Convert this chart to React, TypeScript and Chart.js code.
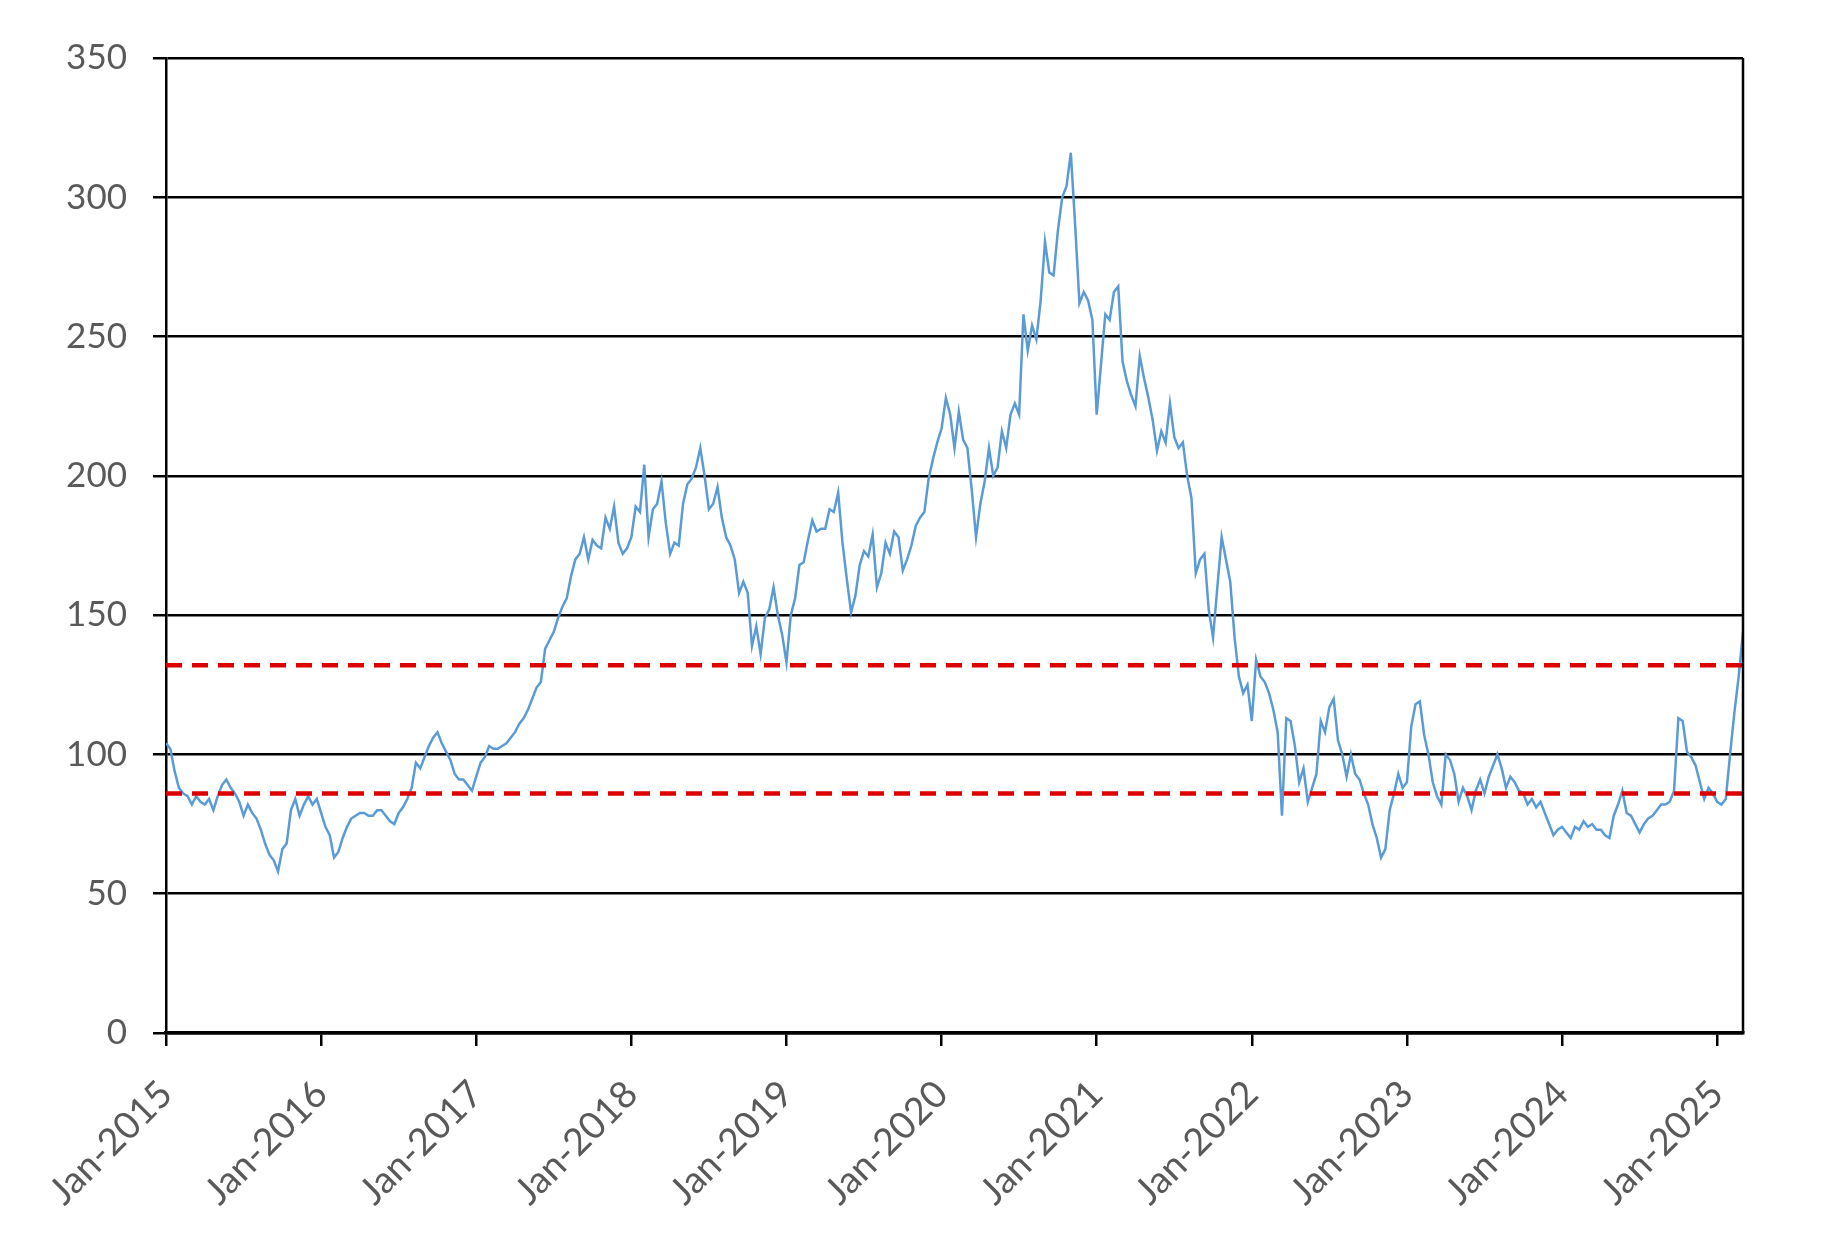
import { useEffect, useRef } from 'react';
import { Chart, registerables } from 'chart.js';

Chart.register(...registerables);

// price, 36 readings per year (about every 10 days)
const years = [2015, 2016, 2017, 2018, 2019, 2020, 2021, 2022, 2023, 2024, 2025];
const v2015 = [104, 102, 94, 88, 86, 85, 82, 85, 83, 82, 84, 80, 85, 89, 91, 88, 86, 83, 78, 82, 79, 77, 73, 68, 64, 62, 58, 66, 68, 80, 84, 78, 82, 85, 82, 84];
const v2016 = [79, 74, 71, 63, 65, 70, 74, 77, 78, 79, 79, 78, 78, 80, 80, 78, 76, 75, 79, 81, 84, 88, 97, 95, 99, 103, 106, 108, 104, 101, 98, 93, 91, 91, 89, 87];
const v2017 = [92, 97, 99, 103, 102, 102, 103, 104, 106, 108, 111, 113, 116, 120, 124, 126, 138, 141, 144, 149, 153, 156, 164, 170, 172, 178, 170, 177, 175, 174, 185, 181, 189, 176, 172, 174];
const v2018 = [178, 189, 187, 204, 178, 188, 190, 198, 183, 172, 176, 175, 190, 197, 199, 203, 210, 200, 188, 190, 196, 185, 178, 175, 170, 158, 162, 158, 139, 146, 136, 149, 152, 160, 150, 143];
const v2019 = [133, 150, 156, 168, 169, 177, 184, 180, 181, 181, 188, 187, 194, 176, 163, 151, 157, 168, 173, 171, 179, 160, 165, 176, 172, 180, 178, 166, 170, 175, 182, 185, 187, 199, 206, 212];
const v2020 = [217, 228, 222, 210, 223, 213, 210, 195, 178, 190, 198, 210, 200, 203, 216, 210, 222, 226, 222, 258, 245, 254, 249, 263, 284, 273, 272, 288, 300, 304, 316, 290, 262, 266, 263, 256];
const v2021 = [222, 240, 258, 256, 266, 268, 241, 234, 229, 225, 243, 235, 228, 220, 209, 216, 212, 226, 214, 210, 212, 200, 192, 165, 170, 172, 152, 142, 160, 178, 170, 162, 142, 128, 122, 125];
const v2022 = [112, 134, 128, 126, 122, 116, 108, 78, 113, 112, 103, 90, 95, 83, 88, 93, 112, 108, 117, 120, 105, 100, 92, 100, 93, 91, 86, 82, 75, 70, 63, 66, 80, 86, 93, 88];
const v2023 = [90, 110, 118, 119, 107, 100, 90, 85, 82, 100, 98, 93, 83, 88, 85, 80, 87, 91, 86, 92, 96, 100, 95, 88, 92, 90, 87, 86, 82, 84, 81, 83, 79, 75, 71, 73];
const v2024 = [74, 72, 70, 74, 73, 76, 74, 75, 73, 73, 71, 70, 78, 82, 87, 79, 78, 75, 72, 75, 77, 78, 80, 82, 82, 83, 87, 113, 112, 101, 99, 96, 90, 84, 88, 86];
const v2025 = [83, 82, 84, 100, 115, 128, 144];
const readingsPerYear = 36;

const upperBand = 132;
const lowerBand = 86;

const xTickYears = [2015, 2016, 2017, 2018, 2019, 2020, 2021, 2022, 2023, 2024, 2025];
const xTickLabels = ['Jan-2015', 'Jan-2016', 'Jan-2017', 'Jan-2018', 'Jan-2019', 'Jan-2020', 'Jan-2021', 'Jan-2022', 'Jan-2023', 'Jan-2024', 'Jan-2025'];
const yMin = 0;
const yMax = 350;
const yStep = 50;

const labelColor = '#595959';

const frameRight = {
  id: 'frameRight',
  afterDatasetsDraw(chart: Chart) {
    const { ctx, chartArea } = chart;
    ctx.save();
    ctx.strokeStyle = '#000';
    ctx.lineWidth = 2.5;
    ctx.beginPath();
    ctx.moveTo(chartArea.right, chartArea.top);
    ctx.lineTo(chartArea.right, chartArea.bottom);
    ctx.stroke();
    ctx.restore();
  },
};

export default function App() {
  const canvasRef = useRef<HTMLCanvasElement>(null);
  const chartRef = useRef<Chart | null>(null);

  useEffect(() => {
    if (!canvasRef.current) return;
    if (chartRef.current) chartRef.current.destroy();

    const series = [v2015, v2016, v2017, v2018, v2019, v2020, v2021, v2022, v2023, v2024, v2025];
    const points = series.flatMap((vals, k) =>
      vals.map((v, i) => ({ x: years[k] + i / readingsPerYear, y: v }))
    );
    const xStart = points[0].x;
    const xEnd = points[points.length - 1].x;

    chartRef.current = new Chart(canvasRef.current, {
      type: 'line',
      data: {
        datasets: [
          {
            label: 'upper',
            data: [{ x: xStart, y: upperBand }, { x: xEnd, y: upperBand }],
            borderColor: '#DD0000',
            borderWidth: 4.5,
            borderDash: [16, 10],
            pointRadius: 0,
          },
          {
            label: 'lower',
            data: [{ x: xStart, y: lowerBand }, { x: xEnd, y: lowerBand }],
            borderColor: '#DD0000',
            borderWidth: 4.5,
            borderDash: [16, 10],
            pointRadius: 0,
          },
          {
            label: 'price',
            data: points,
            borderColor: '#5B9BD5',
            borderWidth: 2.5,
            pointRadius: 0,
            tension: 0,
          },
        ],
      },
      options: {
        responsive: true,
        maintainAspectRatio: false,
        animation: false,
        layout: { padding: { top: 50, right: 79, left: 0, bottom: 0 } },
        plugins: {
          legend: { display: false },
          tooltip: { enabled: false },
        },
        scales: {
          x: {
            type: 'linear',
            min: xStart,
            max: xEnd,
            afterBuildTicks: (s) => { s.ticks = xTickYears.map(v => ({ value: v })); },
            afterFit: (s) => { s.height = 197; },
            grid: { drawOnChartArea: false, drawTicks: true, tickLength: 13, color: '#000', lineWidth: 2.5 },
            border: { display: true, color: '#000', width: 3.5 },
            ticks: {
              autoSkip: false,
              minRotation: 45,
              maxRotation: 45,
              padding: 26,
              font: { family: 'Lato', size: 37.5 },
              color: labelColor,
              callback: (_v, i) => xTickLabels[i],
            },
          },
          y: {
            min: yMin,
            max: yMax,
            afterFit: (s) => { s.width = 158; },
            grid: { color: '#000', lineWidth: 2.5, tickLength: 13 },
            border: { display: true, color: '#000', width: 2.5 },
            ticks: { stepSize: yStep, padding: 26, font: { family: 'Lato', size: 35 }, color: labelColor },
          },
        },
      },
      plugins: [frameRight],
    });

    return () => { chartRef.current?.destroy(); };
  }, []);

  return (
    <div style={{ position: 'relative', width: 1814, height: 1222, background: '#fff' }}>
      <canvas ref={canvasRef} />
    </div>
  );
}
